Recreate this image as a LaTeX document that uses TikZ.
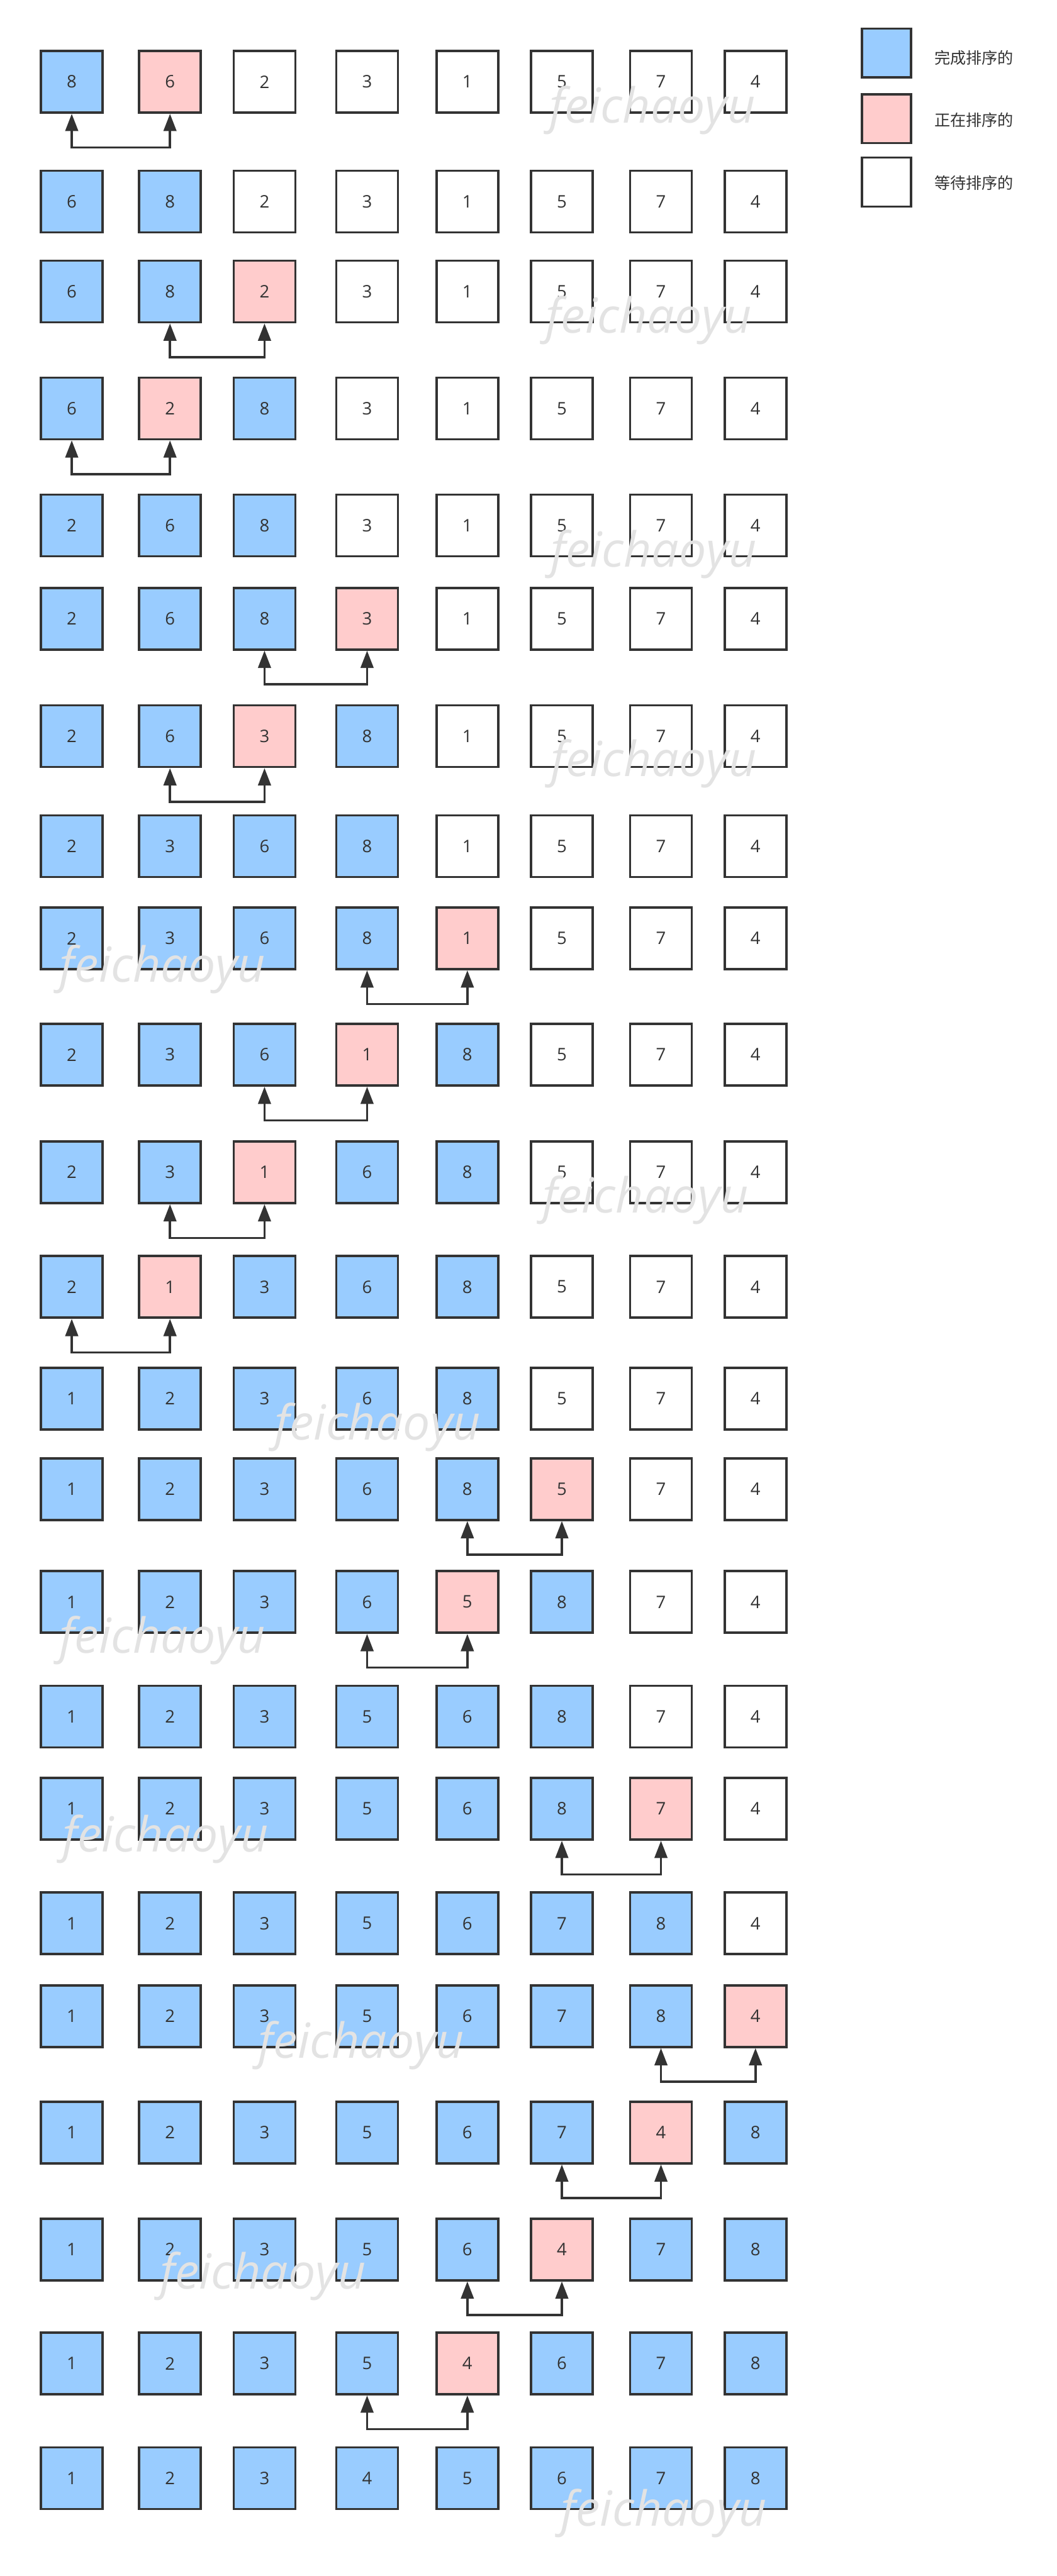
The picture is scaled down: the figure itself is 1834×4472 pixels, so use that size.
\documentclass[tikz,border=0pt]{standalone}
\usepackage{fontspec}
\setmainfont{Open Sans}
\newfontfamily\cjkfont{Noto Sans CJK SC}
\usetikzlibrary{arrows.meta}
\definecolor{blueok}{HTML}{99CCFF}
\definecolor{pinknow}{HTML}{FFCCCC}
\definecolor{inkgray}{HTML}{333333}
\definecolor{markgray}{HTML}{E3E3E3}

\begin{document}
\begin{tikzpicture}[
    x=0.5pt, y=0.5pt,
    cell/.style={draw=inkgray, line width=2pt, minimum size=53.5pt, inner sep=0pt, text=inkgray, font=\fontsize{15}{18}\selectfont},
    key/.style={draw=inkgray, line width=2pt, minimum size=42.5pt, inner sep=0pt},
    keytxt/.style={anchor=west, inner sep=0pt, text=inkgray, font=\cjkfont\fontsize{13.75}{16}\selectfont},
    swp/.style={{Triangle[length=15pt,width=11pt]}-{Triangle[length=15pt,width=11pt]}, draw=inkgray, line width=2pt},
    wmark/.style={anchor=base west, inner sep=0pt, text=markgray, font=\itshape\fontsize{42}{48}\selectfont}
]
\fill[white] (0,0) rectangle (1834,-4472);
\useasboundingbox (0,0) rectangle (1834,-4472);

% rows: y / values / last sorted / box being inserted
\foreach \y/\vals/\n/\p [count=\r] in {
    142/{8,6,2,3,1,5,7,4}/2/2, 350/{6,8,2,3,1,5,7,4}/2/0,
    506/{6,8,2,3,1,5,7,4}/3/3, 709/{6,2,8,3,1,5,7,4}/3/2,
    912/{2,6,8,3,1,5,7,4}/3/0, 1074/{2,6,8,3,1,5,7,4}/4/4,
    1278/{2,6,3,8,1,5,7,4}/4/3, 1469/{2,3,6,8,1,5,7,4}/4/0,
    1629/{2,3,6,8,1,5,7,4}/5/5, 1831/{2,3,6,1,8,5,7,4}/5/4,
    2035/{2,3,1,6,8,5,7,4}/5/3, 2234/{2,1,3,6,8,5,7,4}/5/2,
    2428/{1,2,3,6,8,5,7,4}/5/0, 2585/{1,2,3,6,8,5,7,4}/6/6,
    2781/{1,2,3,6,5,8,7,4}/6/5, 2980/{1,2,3,5,6,8,7,4}/6/0,
    3140/{1,2,3,5,6,8,7,4}/7/7, 3339/{1,2,3,5,6,7,8,4}/7/0,
    3500/{1,2,3,5,6,7,8,4}/8/8, 3702/{1,2,3,5,6,7,4,8}/8/7,
    3905/{1,2,3,5,6,4,7,8}/8/6, 4103/{1,2,3,5,4,6,7,8}/8/5,
    4302/{1,2,3,4,5,6,7,8}/8/0} {
  \foreach \v [count=\c] in \vals {
    \pgfmathsetmacro\cx{{124.5,295,459,637,811,975,1147,1311}[\c-1]}
    \ifnum\c=\p \def\fc{pinknow}\else\ifnum\c>\n \def\fc{white}\else\def\fc{blueok}\fi\fi
    \node[cell, fill=\fc] (n\r-\c) at (\cx,-\y) {\v};
  }
  \ifnum\p>0
    \pgfmathtruncatemacro\a{\p-1}
    \draw[swp] (n\r-\a.south) -- ++(0,-58.5) -| (n\r-\p.south);
  \fi
}

% legend
\node[key, fill=blueok] (k1) at (1538.5,-92) {};
\node[key, fill=pinknow] (k2) at (1538.5,-206) {};
\node[key, fill=white] (k3) at (1538.5,-316) {};
\node[keytxt] (t1) at (1621,-100) {完成排序的};
\node[keytxt] (t2) at (1621,-208) {正在排序的};
\node[keytxt] (t3) at (1621,-318) {等待排序的};

% watermarks
\foreach \x/\b [count=\w] in {953/213, 947/578, 955/984, 955/1348, 103/1705, 941/2105,
    476/2500, 103/2870, 108/3215, 448/3573, 277/3973, 973/4385}
  \node[wmark] (wm\w) at (\x,-\b) {feichaoyu};
\end{tikzpicture}
\end{document}
